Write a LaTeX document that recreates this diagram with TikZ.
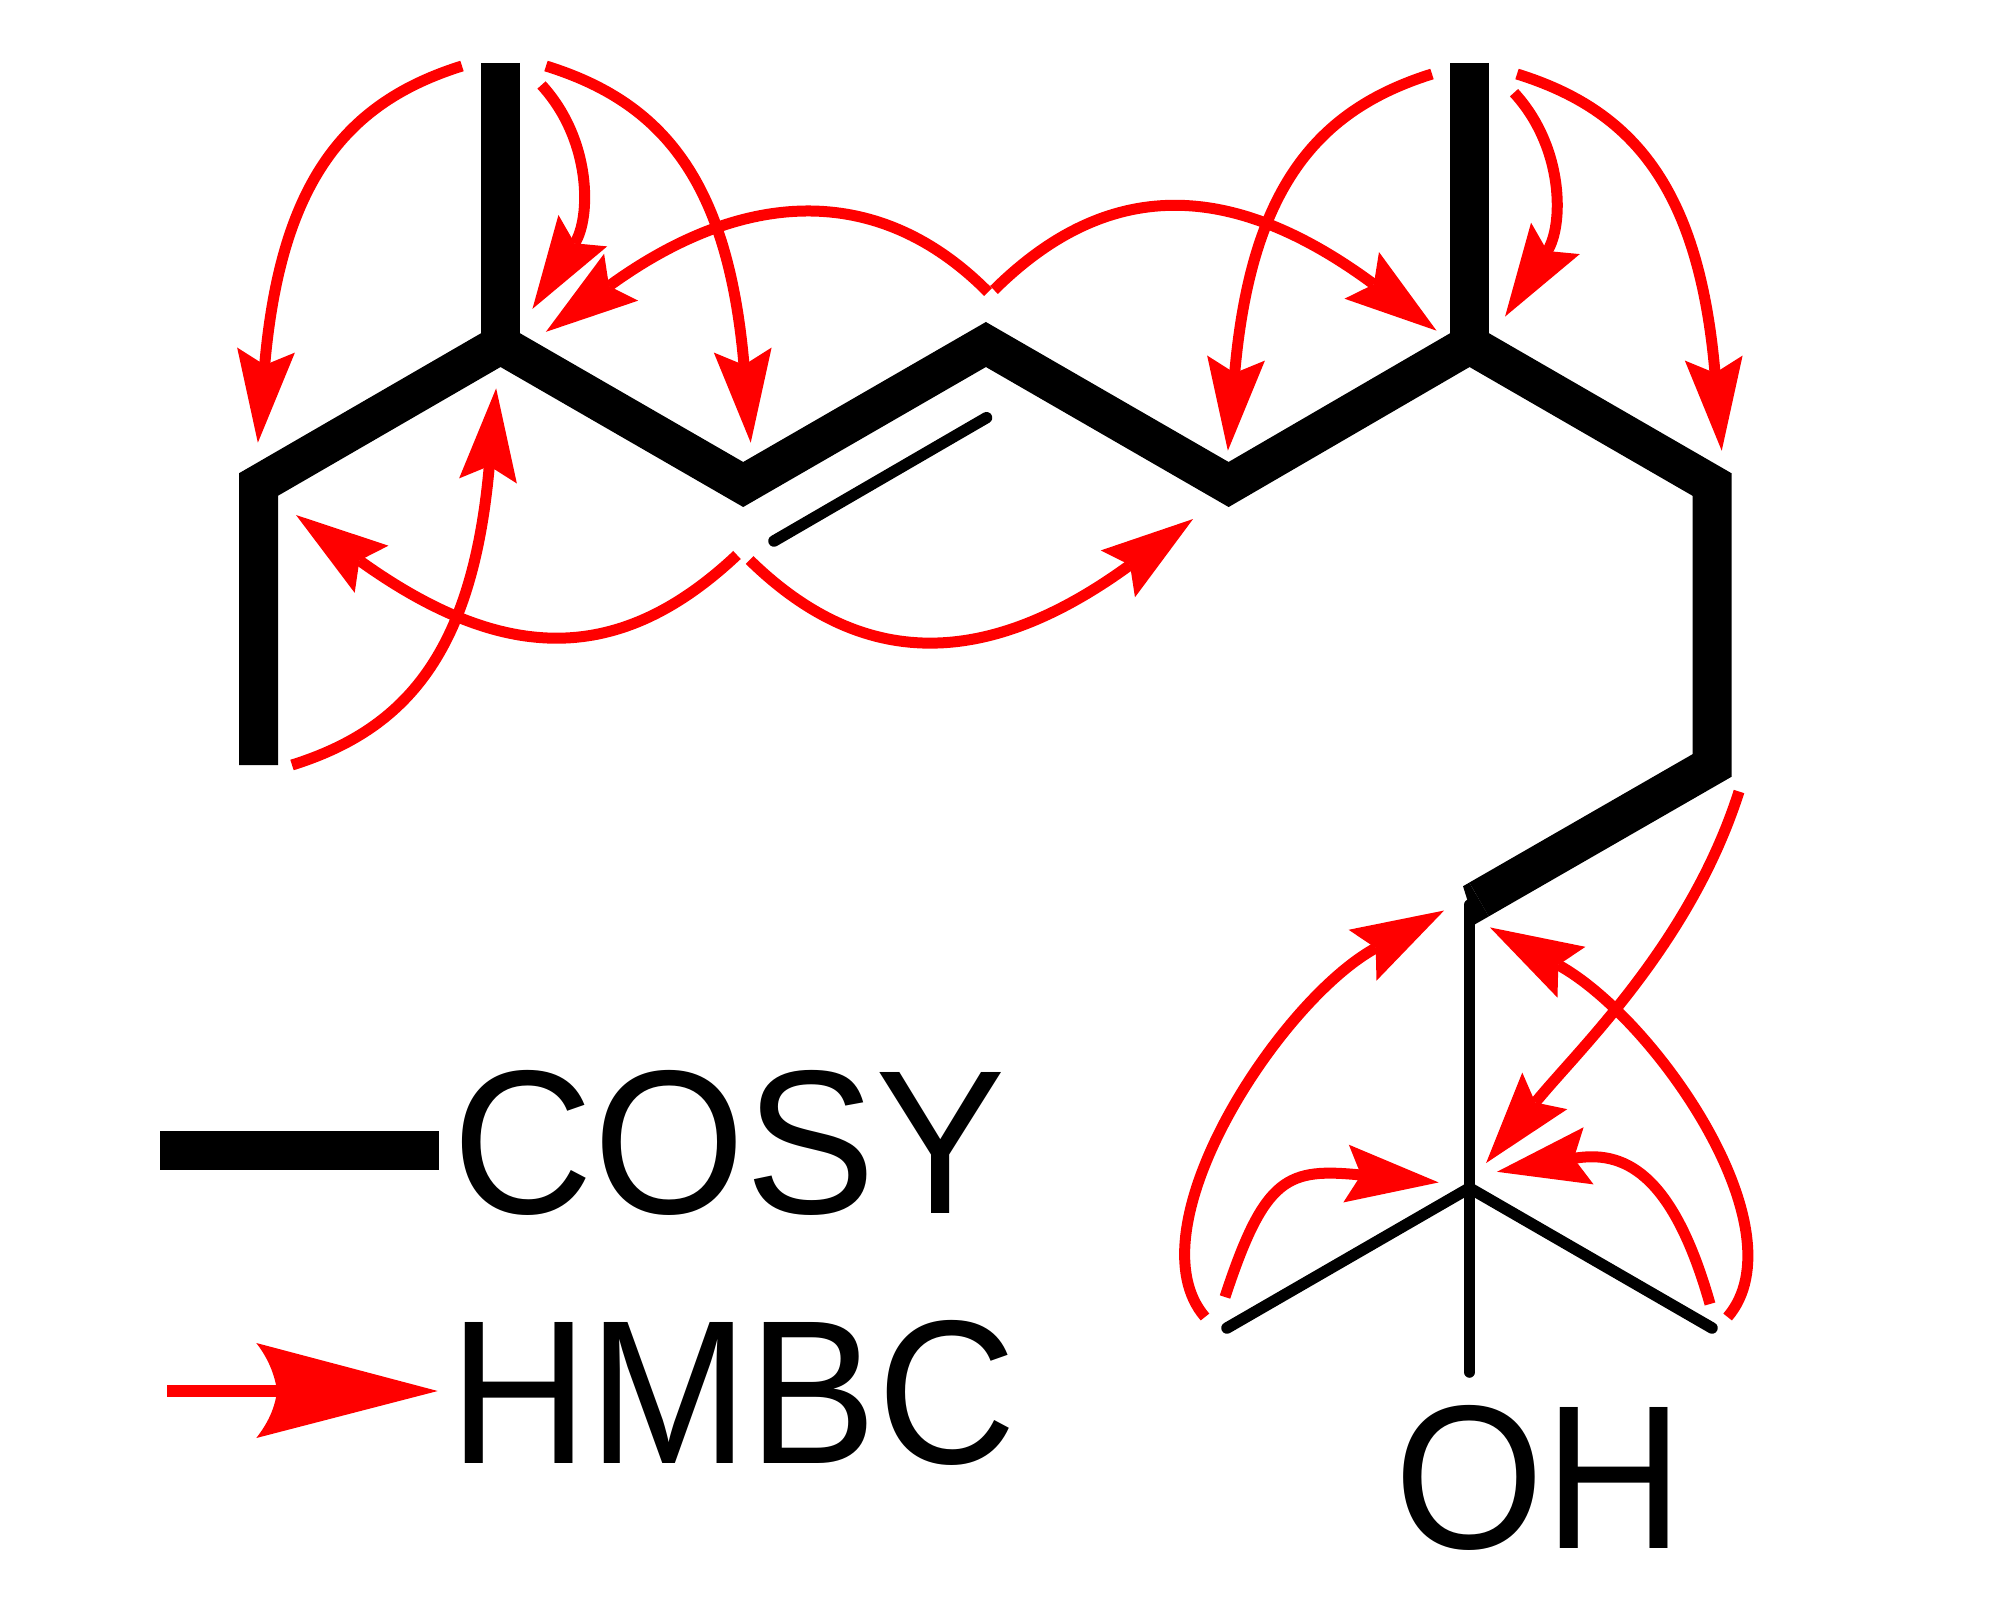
\documentclass[tikz,border=0pt]{standalone}
\usepackage{fontspec}
\setmainfont{Liberation Sans}
\usetikzlibrary{arrows.meta}
\tikzset{
  cosybond/.style={line width=39pt,line join=miter,line cap=butt},
  thinbond/.style={line width=11.5pt,line cap=round},
  hmbc/.style={color=red,line width=11pt,-{Stealth[length=93pt,width=58pt,inset=15pt,line width=0pt]},shorten >=-78pt},
  label/.style={inner sep=0pt,anchor=base west,xscale=0.94,transform shape,font=\fontsize{205}{205}\selectfont}
}
\begin{document}
\begin{tikzpicture}[x=1pt,y=-1pt]
\useasboundingbox (0,0) rectangle (2008,1600);
\fill[color=white] (0,0) rectangle (2008,1600);
% Drawing skeleton
\coordinate (me1) at (258.5,765);
\coordinate (c1) at (258.5,484.5);
\coordinate (c2) at (500.5,344.5);
\coordinate (me2) at (500.5,63);
\coordinate (c3) at (743.2,484.5);
\coordinate (c4) at (985.9,344.5);
\coordinate (c5) at (1228.6,484.5);
\coordinate (c6) at (1469.5,344.5);
\coordinate (me3) at (1469.5,63);
\coordinate (c7) at (1712,484.5);
\coordinate (c8) at (1712,765.5);
\coordinate (c9) at (1479,899.5);
\coordinate (c10) at (1469.5,1188);
\coordinate (c11) at (1469.5,905);
\coordinate (me4) at (1227,1328);
\coordinate (me5) at (1712,1328);
\coordinate (oh) at (1469.5,1372);
\coordinate (db1) at (774,541);
\coordinate (db2) at (986.5,417.7);
\draw[cosybond] (me1) -- (c1) -- (c2) -- (c3) -- (c4) -- (c5) -- (c6) -- (c7) -- (c8) -- (c9);
\fill (1469.3,882.6) -- (1463,886.2) -- (1475,924.3) -- (1488.8,916.4) -- cycle;
\draw[cosybond] (me2) -- (c2);
\draw[cosybond] (me3) -- (c6);
\draw[thinbond] (db1) -- (db2);
\draw[thinbond] (c11) -- (oh);
\draw[thinbond] (me4) -- (c10) -- (me5);
\node[label] (lbloh) at (1394,1548) {OH};
% Drawing HMBC correlations on top
\draw[hmbc] (462,66) .. controls (347,102) and (281,180) .. (264.7,365);
\draw[hmbc] (546,66) .. controls (662,102) and (728,180) .. (744,365);
\draw[hmbc] (541.5,85) .. controls (592,140) and (591,218) .. (574.7,243.3);
\draw[hmbc] (988,292) .. controls (882,185) and (748,185) .. (609,286);
\draw[hmbc] (994,290) .. controls (1107,178) and (1230,178) .. (1373.8,284.3);
\draw[hmbc] (1432,74) .. controls (1317,110) and (1251,188) .. (1234.7,373);
\draw[hmbc] (1517,74) .. controls (1633,110) and (1699,188) .. (1715,373);
\draw[hmbc] (1514,92.7) .. controls (1564.6,147.7) and (1563.6,225.7) .. (1547.3,251);
\draw[hmbc] (737,555) .. controls (620,665) and (505,665) .. (359.4,560.5);
\draw[hmbc] (749.6,560) .. controls (862,670) and (986,670) .. (1130,565);
\draw[hmbc] (292,765) .. controls (407,729) and (473,651) .. (489.3,466);
\draw[hmbc] (1205,1317) .. controls (1130,1230) and (1279,1001) .. (1375.7,948);
\draw[hmbc] (1727.6,1317) .. controls (1802,1230) and (1654.7,1018) .. (1558.3,965);
\draw[hmbc] (1739,791.5) .. controls (1690,945) and (1578,1050) .. (1535.3,1102.5);
\draw[hmbc] (1225,1297) .. controls (1265,1175) and (1288,1168) .. (1361,1175);
\draw[hmbc] (1710,1304) .. controls (1672,1170) and (1622,1150) .. (1573.8,1158.4);
% Drawing legend
\coordinate (keya) at (160,1150.5);
\coordinate (keyb) at (439,1150.5);
\draw[cosybond] (keya) -- (keyb);
\node[label,xscale=1.014] (lblcosy) at (452,1213.5) {COSY};
\coordinate (keyc) at (167,1391);
\coordinate (keyd) at (277,1391);
\draw[color=red,line width=12pt] (keyc) -- (keyd);
\fill[color=red] (437.7,1391) -- (256.3,1343) .. controls (268,1358) and (275,1375) .. (keyd) .. controls (275,1408) and (268,1423) .. (256.3,1438) -- cycle;
\node[label] (lblhmbc) at (449,1463) {HMBC};
\end{tikzpicture}
\end{document}
